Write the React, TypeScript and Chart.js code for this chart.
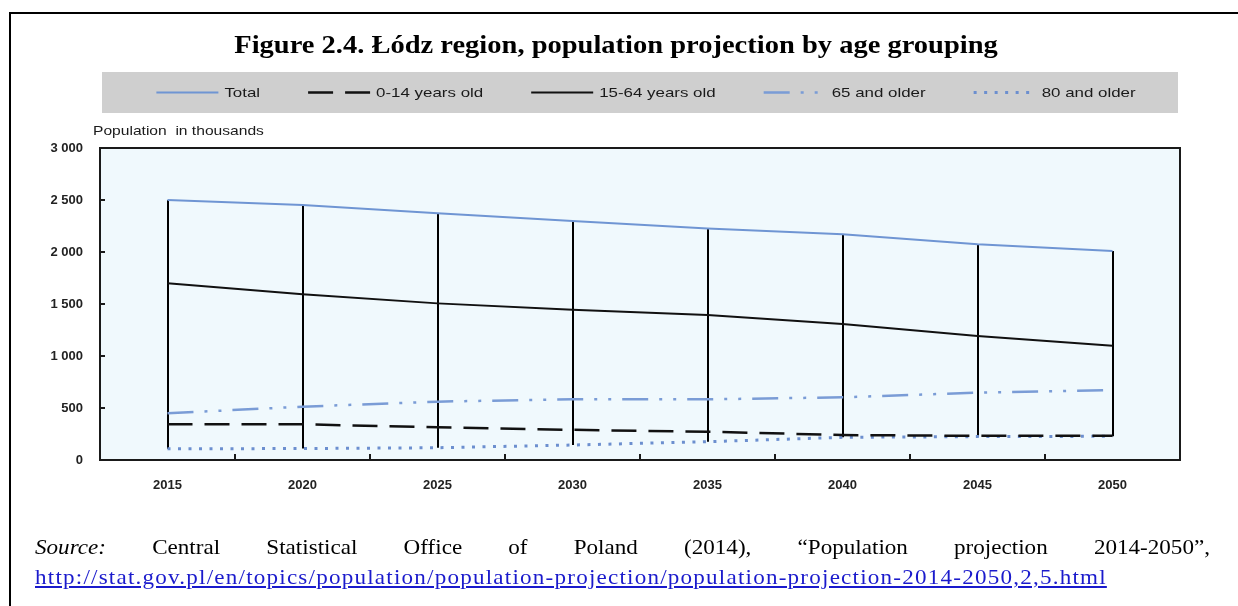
import React, { useEffect, useRef } from 'react';
import { Chart, registerables } from 'chart.js';

Chart.register(...registerables);

// ---------- data ----------
const years = ['2015', '2020', '2025', '2030', '2035', '2040', '2045', '2050'];
const total = [2500, 2452, 2372, 2298, 2227, 2170, 2074, 2010];
const age0to14 = [343, 343, 314, 290, 272, 240, 232, 232];
const age15to64 = [1699, 1593, 1506, 1445, 1394, 1308, 1192, 1099];
const age65plus = [449, 513, 561, 585, 583, 603, 647, 673];
const age80plus = [108, 110, 118, 144, 176, 218, 225, 228];

const seriesNames = ['Total', '0-14 years old', '15-64 years old', '65 and older', '80 and older'];
const titleText = 'Figure 2.4. Łódz region, population projection by age grouping';
const yAxisTitle = 'Population  in thousands';
const sourceUrl = 'http://stat.gov.pl/en/topics/population/population-projection/population-projection-2014-2050,2,5.html';

const fmtThousands = (v: number) => {
  if (v >= 1000) return `${Math.floor(v / 1000)} ${String(v % 1000).padStart(3, '0')}`;
  return String(v);
};

const W = 1238;
const H = 606;

const decoPlugin = {
  id: 'deco',
  beforeDraw(chart: any) {
    const { ctx, chartArea: a } = chart;
    ctx.save();
    ctx.fillStyle = '#ffffff';
    ctx.fillRect(0, 0, W, H);

    // outer frame (top + left)
    ctx.strokeStyle = '#000';
    ctx.lineWidth = 2;
    ctx.beginPath();
    ctx.moveTo(10, H);
    ctx.lineTo(10, 13);
    ctx.lineTo(W, 13);
    ctx.stroke();

    // title
    ctx.fillStyle = '#000';
    ctx.font = 'bold 25px "Liberation Serif", "Times New Roman", serif';
    ctx.textAlign = 'center';
    ctx.textBaseline = 'alphabetic';
    ctx.save();
    ctx.translate(616, 53);
    ctx.scale(1.14, 1);
    ctx.fillText(titleText, 0, 0);
    ctx.restore();

    // legend box
    const lbLeft = 102, lbRight = 1178, lbTop = 72, lbBottom = 113;
    ctx.fillStyle = '#cfcfcf';
    ctx.fillRect(lbLeft, lbTop, lbRight - lbLeft, lbBottom - lbTop);

    const sx = 1.3;
    const sampleLen = 62;
    const sampleGap = 6;
    const itemGap = 48;
    ctx.font = '13px "Liberation Sans", Arial, sans-serif';
    const ds = chart.data.datasets;
    const widths = ds.map((d: any) => sampleLen + sampleGap + ctx.measureText(d.label).width * sx);
    const totalW = widths.reduce((s: number, w: number) => s + w, 0) + itemGap * (ds.length - 1);
    let x = (lbLeft + lbRight) / 2 + 6 - totalW / 2;
    const cy = (lbTop + lbBottom) / 2;
    ds.forEach((d: any, i: number) => {
      ctx.save();
      ctx.strokeStyle = d.borderColor;
      ctx.lineWidth = d.borderWidth;
      ctx.setLineDash(d.borderDash || []);
      ctx.beginPath();
      ctx.moveTo(x, cy);
      ctx.lineTo(x + sampleLen, cy);
      ctx.stroke();
      ctx.restore();
      ctx.save();
      ctx.fillStyle = '#1a1a1a';
      ctx.textAlign = 'left';
      ctx.textBaseline = 'middle';
      ctx.translate(x + sampleLen + sampleGap, cy + 1);
      ctx.scale(sx, 1);
      ctx.fillText(d.label, 0, 0);
      ctx.restore();
      x += widths[i] + itemGap;
    });

    // y axis title
    ctx.save();
    ctx.fillStyle = '#1a1a1a';
    ctx.font = '13px "Liberation Sans", Arial, sans-serif';
    ctx.textAlign = 'left';
    ctx.textBaseline = 'middle';
    ctx.translate(93, 131);
    ctx.scale(1.2, 1);
    ctx.fillText(yAxisTitle, 0, 0);
    ctx.restore();

    // plot background
    ctx.fillStyle = '#f0f9fd';
    ctx.fillRect(a.left, a.top, a.right - a.left, a.bottom - a.top);
    ctx.restore();
  },
  beforeDatasetsDraw(chart: any) {
    // high-low lines
    const { ctx } = chart;
    const xs = chart.scales.x;
    const ys = chart.scales.y;
    const ds = chart.data.datasets;
    ctx.save();
    ctx.strokeStyle = '#000';
    ctx.lineWidth = 2;
    for (let i = 0; i < chart.data.labels.length; i++) {
      const vals = ds.map((d: any) => d.data[i]);
      const hi = Math.max(...vals);
      const lo = Math.min(...vals);
      const px = Math.round(xs.getPixelForValue(i));
      ctx.beginPath();
      ctx.moveTo(px, ys.getPixelForValue(hi));
      ctx.lineTo(px, ys.getPixelForValue(lo));
      ctx.stroke();
    }
    ctx.restore();
  },
  afterDatasetsDraw(chart: any) {
    const { ctx, chartArea: a } = chart;
    const xs = chart.scales.x;
    const ys = chart.scales.y;
    ctx.save();
    ctx.strokeStyle = '#1a1a1a';
    ctx.lineWidth = 2;
    ctx.strokeRect(a.left, a.top, a.right - a.left, a.bottom - a.top);
    // inner ticks
    ctx.lineWidth = 2;
    const n = chart.data.labels.length;
    const half = (xs.getPixelForValue(1) - xs.getPixelForValue(0)) / 2;
    for (let i = 1; i < n; i++) {
      const px = Math.round(xs.getPixelForValue(i) - half);
      ctx.beginPath();
      ctx.moveTo(px, a.bottom);
      ctx.lineTo(px, a.bottom - 6);
      ctx.stroke();
    }
    ys.ticks.forEach((t: any) => {
      if (t.value <= ys.min || t.value >= ys.max) return;
      const py = Math.round(ys.getPixelForValue(t.value));
      ctx.beginPath();
      ctx.moveTo(a.left, py);
      ctx.lineTo(a.left + 5, py);
      ctx.stroke();
    });
    ctx.restore();
  },
};

export default function App() {
  const canvasRef = useRef<HTMLCanvasElement | null>(null);

  useEffect(() => {
    const canvas = canvasRef.current;
    if (!canvas) return;
    const tickFont = { family: '"Liberation Sans", Arial, sans-serif', size: 13, weight: 'bold' as const };
    const chart = new Chart(canvas, {
      type: 'line',
      data: {
        labels: years,
        datasets: [
          { label: seriesNames[0], data: total, borderColor: '#6f95d3', borderWidth: 2, borderDash: [], pointRadius: 0, tension: 0, fill: false },
          { label: seriesNames[1], data: age0to14, borderColor: '#111111', borderWidth: 2.5, borderDash: [25, 12], pointRadius: 0, tension: 0, fill: false },
          { label: seriesNames[2], data: age15to64, borderColor: '#111111', borderWidth: 2, borderDash: [], pointRadius: 0, tension: 0, fill: false },
          { label: seriesNames[3], data: age65plus, borderColor: '#7a9cd6', borderWidth: 2.5, borderDash: [26, 11, 3, 11, 3, 11], pointRadius: 0, tension: 0, fill: false },
          { label: seriesNames[4], data: age80plus, borderColor: '#6c8fcf', borderWidth: 3, borderDash: [3, 7.5], pointRadius: 0, tension: 0, fill: false },
        ],
      },
      options: {
        responsive: false,
        animation: false,
        devicePixelRatio: 1,
        layout: { padding: { top: 148, left: 0, right: W - 1180, bottom: H - 460 - 40 } },
        plugins: {
          legend: { display: false },
          title: { display: false },
          tooltip: { enabled: false },
        },
        scales: {
          x: {
            type: 'category',
            offset: true,
            grid: { display: false, drawTicks: false },
            border: { display: false },
            ticks: { font: tickFont, color: '#222', padding: 18, maxRotation: 0, autoSkip: false },
            afterFit: (s: any) => { s.height = 40; },
          },
          y: {
            min: 0,
            max: 3000,
            grid: { display: false, drawTicks: false },
            border: { display: false },
            ticks: { stepSize: 500, font: tickFont, color: '#222', padding: 17, callback: (v: any) => fmtThousands(Number(v)) },
            afterFit: (s: any) => { s.width = 100; },
          },
        },
      },
      plugins: [decoPlugin],
    });
    return () => chart.destroy();
  }, []);

  return (
    <div style={{ position: 'absolute', left: 0, top: 0, width: W, height: H, overflow: 'hidden', background: '#fff' }}>
      <canvas ref={canvasRef} width={W} height={H} style={{ display: 'block', position: 'absolute', left: 0, top: 0 }} />
      <div
        style={{
          position: 'absolute',
          left: 35,
          top: 532,
          width: 1175 / 1.05,
          transform: 'scaleX(1.05)',
          transformOrigin: '0 0',
          fontFamily: '"Liberation Serif", "Times New Roman", serif',
          fontSize: 22,
          lineHeight: '30px',
          textAlign: 'justify',
          color: '#000',
        }}
      >
        <i>Source:</i> Central Statistical Office of Poland (2014), “Population projection 2014-2050”,{' '}
        <a href={sourceUrl} style={{ color: '#1a1acc', textDecoration: 'underline', letterSpacing: '1.15px' }}>{sourceUrl}</a>
      </div>
    </div>
  );
}
